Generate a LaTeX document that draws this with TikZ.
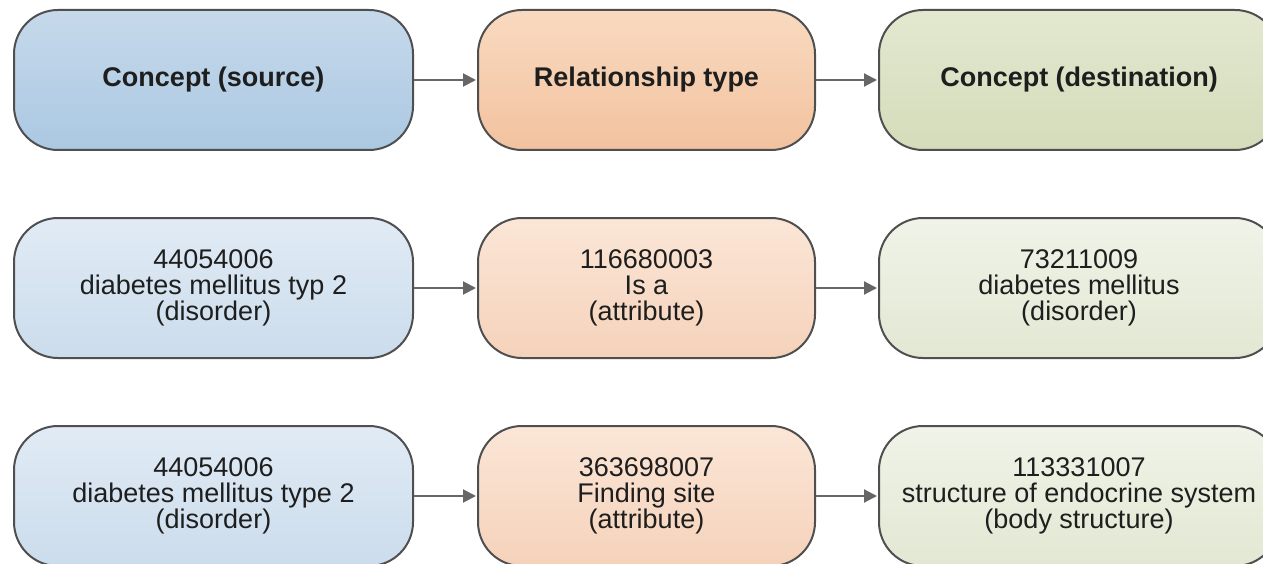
\documentclass[tikz,border=0pt]{standalone}
\usepackage{fontspec}
\setmainfont{Liberation Sans}
\usetikzlibrary{arrows.meta}
\definecolor{bdr}{HTML}{4F4F4F}
\definecolor{arr}{HTML}{666666}
\definecolor{txt}{HTML}{1E1E1E}
\definecolor{bluetop}{HTML}{C6D9EB}
\definecolor{bluebot}{HTML}{ABC8E2}
\definecolor{orgtop}{HTML}{F9DAC0}
\definecolor{orgbot}{HTML}{F2C29F}
\definecolor{grntop}{HTML}{E3E8D0}
\definecolor{grnbot}{HTML}{D4DCBA}
\definecolor{lbluetop}{HTML}{E1EBF5}
\definecolor{lbluebot}{HTML}{CBDCEC}
\definecolor{lorgtop}{HTML}{FBE6D7}
\definecolor{lorgbot}{HTML}{F5D2BA}
\definecolor{lgrntop}{HTML}{F0F3E8}
\definecolor{lgrnbot}{HTML}{E2E8D3}
\begin{document}
\begin{tikzpicture}[x=1pt,y=-1pt,
  box/.style={draw=bdr, line width=2pt, rounded corners=44pt, minimum height=140pt,
    align=center, text=txt, inner sep=2pt, font=\fontsize{27}{26}\selectfont},
  colA/.style={minimum width=399pt},
  colB/.style={minimum width=337pt},
  colC/.style={minimum width=400pt},
  hblue/.style={top color=bluetop, bottom color=bluebot},
  horg/.style={top color=orgtop, bottom color=orgbot},
  hgrn/.style={top color=grntop, bottom color=grnbot},
  lblue/.style={top color=lbluetop, bottom color=lbluebot},
  lorg/.style={top color=lorgtop, bottom color=lorgbot},
  lgrn/.style={top color=lgrntop, bottom color=lgrnbot},
  link/.style={draw=arr, line width=2pt, -{Triangle[length=13pt,width=13pt]}, shorten >=1pt}
]
\useasboundingbox (0,0) rectangle (1263,564);
\clip (0,0) rectangle (1263,564);

\node[box,colA,hblue] (s1) at (213.5,80) {\textbf{Concept (source)}};
\node[box,colB,horg]  (r1) at (646.5,80) {\textbf{Relationship type}};
\node[box,colC,hgrn]  (d1) at (1079,80) {\textbf{Concept (destination)}};

\node[box,colA,lblue] (s2) at (213.5,288) {44054006\\diabetes mellitus typ 2\\(disorder)};
\node[box,colB,lorg]  (r2) at (646.5,288) {116680003\\Is a\\(attribute)};
\node[box,colC,lgrn]  (d2) at (1079,288) {73211009\\diabetes mellitus\\(disorder)};

\node[box,colA,lblue] (s3) at (213.5,496) {44054006\\diabetes mellitus type 2\\(disorder)};
\node[box,colB,lorg]  (r3) at (646.5,496) {363698007\\Finding site\\(attribute)};
\node[box,colC,lgrn]  (d3) at (1079,496) {113331007\\structure of endocrine system\\(body structure)};

\draw[link] (s1) -- (r1);
\draw[link] (r1) -- (d1);
\draw[link] (s2) -- (r2);
\draw[link] (r2) -- (d2);
\draw[link] (s3) -- (r3);
\draw[link] (r3) -- (d3);
\end{tikzpicture}
\end{document}
